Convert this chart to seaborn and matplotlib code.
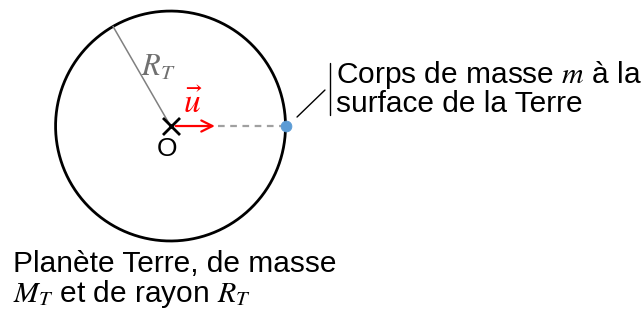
import numpy as np
import pandas as pd
import matplotlib
matplotlib.use("Agg")
import matplotlib.pyplot as plt
import seaborn as sns

# geometry in units of the Earth radius
R_T = 1.0
radius_angle_deg = 120
u_length = 0.41
body_pos = [R_T, 0.0]
center_pos = [0.0, 0.0]

sns.set_theme(style="white")
plt.rcParams["font.family"] = ["Liberation Sans", "DejaVu Sans"]
plt.rcParams["mathtext.fontset"] = "stix"
plt.rcParams["text.color"] = "black"

fig = plt.figure(figsize=(6.43, 3.14), dpi=100)
ax = fig.add_axes([0, 0, 1, 1])
ax.set_xlim(-1.483, 4.109)
ax.set_ylim(-1.635, 1.096)
ax.set_aspect("equal")
ax.axis("off")

# planet
theta = np.linspace(0, 2 * np.pi, 400)
circle = pd.DataFrame({"x": R_T * np.cos(theta), "y": R_T * np.sin(theta)})
ax.plot(circle["x"], circle["y"], color="black", lw=2)

# radius line
a = np.deg2rad(radius_angle_deg)
ax.plot([0, R_T * np.cos(a)], [0, R_T * np.sin(a)], color="#808080", lw=1.1)
ax.text(-0.11, 0.51, r"$R_T$", color="#707070", fontsize=22, ha="center", va="center")

# dashed line to the body
dash = pd.DataFrame({"x": [u_length, body_pos[0]], "y": [0, body_pos[1]]})
sns.lineplot(data=dash, x="x", y="y", ax=ax, color="#a0a0a0", lw=1.6,
             linestyle=(0, (3, 2.5)))

# unit vector
ax.annotate("", xy=(u_length, 0), xytext=(0.02, 0),
            arrowprops=dict(arrowstyle="->", color="red", lw=1.6,
                            mutation_scale=20))
ax.text(0.19, 0.19, r"$\vec{u}$", color="red", fontsize=24, ha="center", va="center")

# center O
pts = pd.DataFrame({"x": [center_pos[0]], "y": [center_pos[1]]})
sns.scatterplot(data=pts, x="x", y="y", ax=ax, marker="x", s=150, color="black",
                linewidth=2, zorder=5)
ax.text(-0.03, -0.2, "O", fontsize=19, ha="center", va="center")

# body on the surface
body = pd.DataFrame({"x": [body_pos[0]], "y": [body_pos[1]]})
sns.scatterplot(data=body, x="x", y="y", ax=ax, s=60, color="#5b9bd5",
                edgecolor="#5b9bd5", zorder=6)

# callout
ax.plot([1.10, 1.343], [0.078, 0.313], color="black", lw=1)
ax.plot([1.387, 1.387], [0.096, 0.548], color="black", lw=1)
ax.text(1.44, 0.443, r"Corps de masse $m$ à la", fontsize=21.5, ha="left", va="center")
ax.text(1.44, 0.191, "surface de la Terre", fontsize=21.5, ha="left", va="center")

# caption
ax.text(-1.37, -1.20, "Planète Terre, de masse", fontsize=21.5, ha="left", va="center")
ax.text(-1.37, -1.46, r"$M_T$ et de rayon $R_T$", fontsize=21.5, ha="left", va="center")

fig.savefig("out.png", dpi=100)
